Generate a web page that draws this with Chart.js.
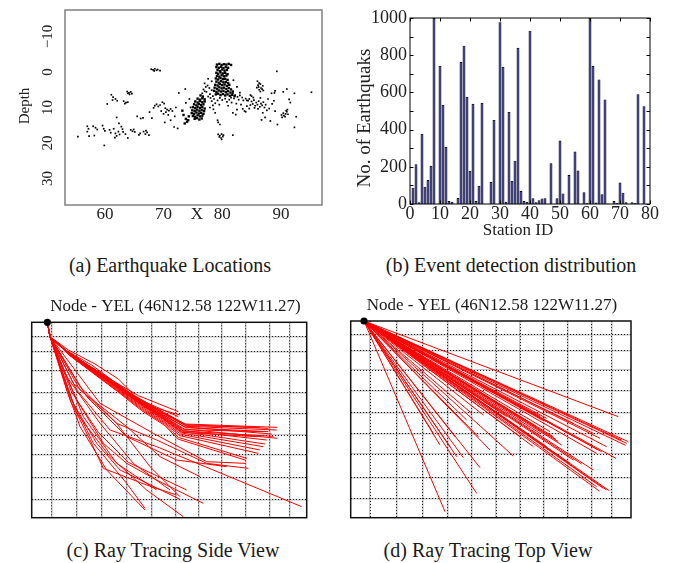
<!DOCTYPE html>
<html><head><meta charset="utf-8">
<script src="https://cdn.jsdelivr.net/npm/chart.js@4.4.1/dist/chart.umd.min.js"></script>
<style>
html,body{margin:0;padding:0;background:#fff}
body{width:687px;height:563px;position:relative;overflow:hidden;font-family:"Liberation Serif","Times New Roman",serif}
canvas{position:absolute}
.cap{position:absolute;font-size:20px;line-height:20px;color:#1a1a1a;white-space:nowrap;transform:translateX(-50%)}
</style></head><body>
<canvas id="ca" width="340" height="250" style="left:0;top:0"></canvas>
<canvas id="cb" width="347" height="250" style="left:340px;top:0"></canvas>
<canvas id="cc" width="340" height="240" style="left:0;top:290px"></canvas>
<canvas id="cd" width="347" height="240" style="left:340px;top:290px"></canvas>
<div class="cap" style="left:170px;top:255px">(a) Earthquake Locations</div>
<div class="cap" style="left:511px;top:255px">(b) Event detection distribution</div>
<div class="cap" style="left:173px;top:540px">(c) Ray Tracing Side View</div>
<div class="cap" style="left:488px;top:540px">(d) Ray Tracing Top View</div>
<script>
// ---------- (a) Earthquake locations: [x, depth] ----------
const depthTicks = [-10, 0, 10, 20, 30];
const xTicksA = [60, 70, 80, 90];
const mainColumn = [[79.1,-2.1],[79.5,-2.3],[79.9,-2.0],[80.3,-2.2],[80.7,-2.1],[81.1,-2.3],[81.5,-2.0],
[79.0,-1.4],[79.4,-1.2],[79.8,-1.5],[80.2,-1.1],[80.6,-1.4],[81.0,-1.2],
[79.2,-0.6],[79.6,-0.3],[80.0,-0.7],[80.4,-0.4],[80.8,-0.6],
[79.0,0.2],[79.3,0.5],[79.7,0.1],[80.1,0.4],[80.5,0.2],[80.9,0.6],
[79.1,1.1],[79.5,1.3],[79.9,0.9],[80.3,1.2],[80.7,1.0],
[78.9,1.8],[79.3,2.1],[79.7,1.7],[80.1,2.0],[80.5,1.9],[80.9,2.2],
[79.0,2.7],[79.4,3.0],[79.8,2.6],[80.2,2.9],[80.6,2.8],[81.0,3.1],
[78.8,3.6],[79.2,3.8],[79.6,3.4],[80.0,3.7],[80.4,3.5],[80.8,3.9],[81.2,3.6],
[78.7,4.4],[79.1,4.7],[79.5,4.3],[79.9,4.6],[80.3,4.4],[80.7,4.8],[81.1,4.5],[81.5,4.9],
[78.6,5.3],[79.0,5.6],[79.4,5.2],[79.8,5.5],[80.2,5.3],[80.6,5.7],[81.0,5.4],[81.4,5.8],[81.8,5.5],
[78.9,6.3],[79.3,6.1],[79.7,6.5],[80.1,6.2],[80.5,6.6],[80.9,6.3],[81.3,6.7],[81.7,6.4],[82.1,6.8]];
const centralSpread = [[77.5,3.8],[77.8,4.5],[78.2,5.1],[77.3,5.6],[77.9,6.2],[78.4,6.8],[78.0,7.3],[77.6,6.9],[78.6,7.6],[78.2,8.2],[78.8,8.8],[78.4,9.4],[77.9,10.0],[78.5,10.5],
[81.8,6.0],[82.2,6.5],[82.6,7.0],[83.0,6.6],[83.4,7.2],[82.0,7.4],[82.8,7.8],[83.6,8.0],[84.0,7.5],[84.4,8.1],[81.5,7.2],[81.2,7.8],[80.5,7.5],[80.0,7.9],[79.6,7.3],[79.2,8.0],[80.8,8.4],[81.6,8.6],[82.4,8.9],[83.2,9.2],[84.2,9.6],
[76.8,4.9],[77.0,5.4],[76.6,6.0],[77.2,4.2],[83.0,5.8],[84.8,6.5],[85.3,7.2],[84.6,10.3],[83.8,11.0],[82.5,10.6],[81.0,9.5],[79.5,9.2],[78.8,11.5],[79.2,13.6],[79.6,14.8],[79.3,14.2],[77.6,1.9],[78.2,2.6],[81.9,2.3],[77.0,3.2],[82.5,4.2]];
const blob75 = [[76.3,6.6],[76.7,6.9],[75.8,7.5],[76.2,7.8],[76.6,7.4],[77.0,7.7],
[75.4,8.3],[75.8,8.6],[76.2,8.2],[76.6,8.5],[77.0,8.3],[75.2,9.1],[75.6,9.4],[76.0,9.0],[76.4,9.3],[76.8,9.1],
[75.0,9.9],[75.4,10.2],[75.8,9.8],[76.2,10.1],[76.6,9.9],[77.0,10.3],[74.9,10.8],[75.3,11.0],[75.7,10.6],[76.1,10.9],[76.5,10.7],[76.9,11.0],
[74.8,11.6],[75.2,11.8],[75.6,11.4],[76.0,11.7],[76.4,11.5],[76.8,11.8],[75.0,12.4],[75.4,12.6],[75.8,12.2],[76.2,12.5],[76.6,12.3],
[75.3,13.2],[75.7,13.0],[76.1,13.4],[76.5,13.1],[73.8,13.2],[74.0,14.0],[73.6,14.5],[74.2,13.6],[73.4,12.1],[74.3,12.5],[73.2,10.9]];
const east86 = [[86.0,2.6],[86.3,3.1],[86.1,3.7],[86.5,3.4],[86.2,4.2],[86.6,4.5],[86.3,5.0],[86.8,4.8],[86.5,5.5],[87.0,5.2],[85.9,4.4],[86.9,3.9],
[84.2,8.0],[84.6,7.6],[85.0,8.3],[85.4,7.9],[85.8,8.6],[86.2,8.2],[86.6,8.9],[87.0,8.5],[87.4,9.2],[85.2,9.0],[85.6,9.5],[86.0,9.2],[86.4,9.8],[86.8,9.4],[87.2,10.0],[84.8,9.3],[85.5,10.1],[86.1,10.4],[87.6,10.8],[88.0,10.3],[86.9,11.5],[87.3,12.8],[86.7,13.5],[85.0,6.8],[86.5,7.3],[87.8,7.6],[88.5,9.0],[83.5,10.4],[84.0,11.2],[82.3,12.0],[81.8,11.5],[88.4,6.0],[89.0,5.3],[88.8,8.1]];
const east91 = [[90.2,12.8],[90.5,12.3],[90.8,11.8],[91.0,11.2],[90.4,11.6],[90.7,12.6],[91.1,10.6],[90.1,12.1],[91.2,11.9],[90.9,10.9],
[89.3,-0.2],[91.0,4.8],[95.2,5.7],[92.3,6.0],[91.4,7.7],[91.6,8.6],[92.6,12.6],[92.3,15.6],[89.4,14.8],[89.0,11.0],[88.2,13.8],[90.4,5.6],[88.9,5.9]];
const west70 = [[67.9,-0.8],[68.2,-0.6],[68.5,-0.9],[68.8,-0.5],[68.4,-0.3],[69.4,-0.4],[69.0,-0.7],
[68.5,9.5],[68.8,9.1],[69.1,9.7],[68.3,10.1],[69.4,9.3],[69.8,8.5],[70.1,8.9],[70.3,10.2],[70.6,10.6],[70.9,10.9],[70.4,11.3],[71.2,10.4],[71.5,11.0],[70.0,11.8],[69.6,11.0],[70.8,12.1],[71.9,12.5],[72.1,10.0],[67.6,11.3],[68.0,13.0],[70.2,14.2],[71.8,15.5],[72.4,15.9],[71.2,13.6],[72.6,5.9],[73.7,4.8],[74.4,7.6],[74.6,10.0],[73.8,8.7]];
const west60 = [[61.1,6.4],[61.4,7.1],[61.8,7.6],[61.3,7.9],[62.1,8.1],[60.4,9.0],[63.2,8.2],[63.6,8.6],[63.4,8.9],[63.9,8.5],
[63.8,5.5],[64.1,5.9],[64.4,5.6],[64.6,6.1],[64.2,6.3],[63.9,6.0],[65.5,12.5],[66.5,12.9],[62.0,12.8],[66.1,13.1],
[55.4,18.2],[57.0,15.3],[57.2,16.0],[57.0,16.8],[57.3,18.1],[58.0,15.3],[58.4,15.7],[58.7,16.2],[58.2,17.9],[59.6,15.1],[59.8,16.0],[60.0,16.6],[59.9,20.7],[61.0,17.1],[61.5,16.0],[61.8,17.3],[62.0,18.0],[62.3,16.8],[62.5,17.6],[62.8,15.4],[63.1,16.9],[63.5,17.5],[63.9,18.6],[64.4,16.3],[64.7,16.7],[64.9,16.2],[65.1,16.9],[66.0,17.3],[66.6,16.8],[66.9,17.5],[67.2,17.0],[67.5,17.8],[67.0,16.5],[65.8,17.7],[61.7,18.5],[60.8,16.3],[62.4,14.5],[63.0,16.1]];
const deep80 = [[79.3,17.6],[79.6,17.9],[79.9,17.5],[80.2,17.8],[79.5,18.3],[79.8,18.6],[80.1,18.2],[79.9,19.0],[81.8,17.8]];
const quakeClusters = [mainColumn, centralSpread, blob75, east86, east91, west70, west60, deep80];
const denseClusters = [mainColumn, blob75];

// ---------- (b) Event detection distribution ----------
const stationTicks = [0, 10, 20, 30, 40, 50, 60, 70, 80];
const countTicks = [0, 200, 400, 600, 800, 1000];
// counts for station IDs 0..80
const stationCounts = [0,88,214,10,377,93,129,205,1000,0,743,533,307,16,11,0,32,763,851,576,178,539,16,97,544,0,0,118,452,0,977,738,12,495,124,233,840,70,16,12,932,31,10,20,30,31,0,219,0,31,341,57,0,156,0,282,180,0,63,5,1000,742,8,670,53,562,3,0,16,5,115,61,10,0,10,6,590,0,525,0,0];

// ---------- (c) Ray tracing side view (plot units) ----------
const sideGridX = [60,135,210,285,360,432,500,570,642,713,773];
const sideGridY = [43,88,146,211,275,338,396,466,531];
const sideSource = [47, 0];
const sideRays = [
 [[47,0],[55,43],[95,80],[165,125],[235,170],[305,218],[375,258],[460,305],[737,315]],
 [[47,0],[55,43],[97,82],[167,127],[238,172],[308,222],[378,262],[462,307],[710,318]],
 [[47,0],[55,43],[99,84],[169,129],[240,175],[310,225],[380,266],[465,312],[735,323]],
 [[47,0],[55,43],[100,85],[170,131],[242,177],[312,228],[382,270],[462,316],[710,328]],
 [[47,0],[55,43],[102,87],[172,133],[244,180],[315,232],[385,275],[458,320],[737,348]],
 [[47,0],[55,43],[104,89],[174,136],[246,184],[318,236],[388,280],[455,325],[705,353]],
 [[47,0],[55,43],[106,91],[176,139],[248,188],[320,240],[390,285],[452,328],[700,365]],
 [[47,0],[55,43],[108,93],[178,142],[250,192],[322,245],[392,290],[450,332],[695,373]],
 [[47,0],[55,43],[110,95],[180,145],[252,196],[324,250],[394,295],[448,336],[685,383]],
 [[47,0],[55,43],[112,97],[182,148],[254,200],[326,255],[396,300],[445,340],[680,393]],
 [[47,0],[55,43],[114,99],[184,151],[256,204],[328,260],[398,305],[440,345],[645,408]],
 [[47,0],[55,43],[116,101],[186,154],[258,208],[330,265],[400,310],[438,350],[640,413]],
 [[47,0],[55,43],[98,83],[168,128],[239,174],[309,224],[379,264],[463,310],[685,315]],
 [[47,0],[55,43],[103,88],[173,134],[245,182],[316,234],[386,277],[456,322],[695,328]],
 [[47,0],[55,43],[107,92],[177,140],[249,190],[321,242],[391,287],[451,330],[675,343]],
 [[47,0],[55,43],[101,86],[171,132],[243,179],[313,230],[383,272],[460,314],[720,335]],
 [[47,0],[55,43],[105,90],[175,138],[247,186],[319,238],[389,282],[454,326],[725,342]],
 [[47,0],[55,43],[105,85],[180,128],[315,228]],
 [[47,0],[55,43],[110,83],[190,125],[260,170],[315,225]],
 [[47,0],[55,43],[110,90],[200,150],[320,220],[440,268]],
 [[47,0],[57,45],[115,95],[210,160],[320,230],[440,283]],
 [[47,0],[56,45],[120,100],[220,170],[330,245],[445,278]],
 [[47,0],[55,43],[145,193],[255,303],[375,353],[525,423],[650,438]],
 [[47,0],[55,43],[135,203],[235,323],[375,373],[545,443],[810,553]],
 [[47,0],[55,43],[135,233],[215,363],[285,423],[375,473],[515,543]],
 [[47,0],[55,43],[125,243],[195,363],[265,443],[445,531]],
 [[47,0],[55,43],[115,233],[175,353],[215,438],[345,488],[435,518]],
 [[47,0],[55,43],[105,203],[145,313],[225,443],[340,563]],
 [[47,0],[55,43],[115,223],[185,363],[285,483],[340,558]],
 [[47,0],[55,43],[135,273],[235,403],[345,503],[455,583]],
 [[47,0],[55,43],[155,283],[255,423],[375,503]],
 [[47,0],[55,43],[105,163],[205,303],[305,423],[415,503]],
 [[47,0],[55,43],[125,183],[255,303],[355,433],[445,523]],
 [[47,0],[55,43],[145,203],[285,313],[385,403],[505,463]],
 [[47,0],[55,43],[205,243],[365,333],[525,418],[640,423]],
 [[47,0],[55,43],[165,223],[285,343],[435,413],[585,433]],
 [[47,0],[55,43],[120,210],[200,330],[290,420],[465,503]]
];

// ---------- (d) Ray tracing top view (plot units) ----------
const topGridX = [58,138,216,290,363,436,508,578,650,723,783];
const topGridY = [40,89,147,209,275,337,399,469,532];
const topSource = [40, 0];
const topRayEnds = [[803,287],[833,362],[828,367],[825,373],[813,357],[768,377],[753,392],[743,387],[738,397],[796,412],
[693,429],[776,509],[768,507],[746,510],[758,502],[623,362],[616,355],[608,347],[598,332],[608,312],[578,299],[568,285],
[588,292],[558,317],[528,337],[488,405],[378,517],[283,572],[388,440],[338,410],[313,347],[268,372],[383,347],[398,282],
[363,277],[348,297],[568,337],[658,427],[668,417],[728,447],[738,497],[588,377],[548,377],[633,372],[508,347],[468,287],
[438,267],[298,377],[318,407],[248,337],[418,387],[668,307],[728,337],[748,352]];

const SERIF = '"Liberation Serif","Times New Roman",serif';
const fmtNum = v => (v < 0 ? '\u2212' + Math.abs(v) : String(v));

// ===== Chart (a) =====
const plotA = {
  id: 'plotA',
  afterDraw(chart) {
    const {ctx, chartArea: a, scales: {y}} = chart;
    ctx.save();
    ctx.strokeStyle = '#808080'; ctx.lineWidth = 1.5;
    ctx.strokeRect(a.left, a.top, a.right - a.left, a.bottom - a.top);
    ctx.fillStyle = '#222'; ctx.textAlign = 'center'; ctx.textBaseline = 'middle';
    ctx.font = '15px ' + SERIF;
    depthTicks.forEach(v => {
      const py = y.getPixelForValue(v);
      ctx.save(); ctx.translate(48, py); ctx.rotate(-Math.PI / 2); ctx.fillText(fmtNum(v), 0, 0); ctx.restore();
    });
    ctx.save(); ctx.translate(25, 106); ctx.rotate(-Math.PI / 2); ctx.fillText('Depth', 0, 0); ctx.restore();
    ctx.font = '17px ' + SERIF;
    ctx.fillText('X', 197, 215);
    ctx.restore();
  }
};
new Chart(document.getElementById('ca'), {
  type: 'scatter',
  data: { datasets: quakeClusters.map(c => ({
    data: c.map(p => ({x: p[0], y: p[1]})),
    pointStyle: 'rect', pointRadius: denseClusters.includes(c) ? 1.7 : 1.2, pointBorderWidth: 0,
    backgroundColor: '#000', borderColor: '#000'
  })) },
  options: {
    responsive: false, animation: false, devicePixelRatio: 1,
    layout: { padding: { left: 0, right: 18, top: 10, bottom: 0 } },
    plugins: { legend: { display: false }, tooltip: { enabled: false } },
    scales: {
      x: { type: 'linear', min: 53.2, max: 97,
        afterBuildTicks: s => { s.ticks = xTicksA.map(v => ({value: v})); },
        afterFit: s => { s.height = 45; },
        grid: { display: false, drawTicks: false }, border: { display: false },
        ticks: { color: '#222', font: { family: SERIF, size: 17 }, padding: -1, maxRotation: 0, autoSkip: false,
          callback: v => fmtNum(v) } },
      y: { type: 'linear', min: -17.5, max: 37.5, reverse: true,
        afterFit: s => { s.width = 65; },
        grid: { display: false, drawTicks: false }, border: { display: false },
        ticks: { display: false } }
    }
  },
  plugins: [plotA]
});

// ===== Chart (b) =====
const plotB = {
  id: 'plotB',
  afterDraw(chart) {
    const {ctx, chartArea: a, scales: {x, y}} = chart;
    ctx.save();
    ctx.strokeStyle = '#000'; ctx.lineWidth = 1;
    ctx.strokeRect(a.left, a.top, a.right - a.left, a.bottom - a.top);
    ctx.beginPath();
    stationTicks.forEach(v => {
      const px = Math.round(x.getPixelForValue(v)) + 0.5;
      ctx.moveTo(px, a.bottom); ctx.lineTo(px, a.bottom - 3.5);
      ctx.moveTo(px, a.top); ctx.lineTo(px, a.top + 3.5);
    });
    for (let i = 0; i < countTicks.length; i++) {
      const vals = [countTicks[i]];
      if (i < countTicks.length - 1) vals.push((countTicks[i] + countTicks[i + 1]) / 2);
      vals.forEach(v => {
        const py = Math.round(y.getPixelForValue(v)) + 0.5;
        ctx.moveTo(a.left, py); ctx.lineTo(a.left + 3.5, py);
        ctx.moveTo(a.right, py); ctx.lineTo(a.right - 3.5, py);
      });
    }
    ctx.stroke();
    ctx.fillStyle = '#222'; ctx.textAlign = 'center'; ctx.textBaseline = 'middle';
    ctx.font = '19px ' + SERIF;
    ctx.save(); ctx.translate(25, 118); ctx.rotate(-Math.PI / 2); ctx.fillText('No. of Earthquaks', 0, 0); ctx.restore();
    ctx.font = '17px ' + SERIF;
    ctx.fillText('Station ID', 178, 231);
    ctx.restore();
  }
};
new Chart(document.getElementById('cb'), {
  type: 'bar',
  data: { datasets: [{
    data: stationCounts.map((c, i) => ({x: i, y: c})),
    backgroundColor: '#000070', borderColor: '#000', borderWidth: 0.9,
    barPercentage: 0.97, categoryPercentage: 1
  }] },
  options: {
    responsive: false, animation: false, devicePixelRatio: 1,
    layout: { padding: { left: 0, right: 37, top: 18, bottom: 0 } },
    plugins: { legend: { display: false }, tooltip: { enabled: false } },
    scales: {
      x: { type: 'linear', min: 0, max: 80, offset: false,
        afterBuildTicks: s => { s.ticks = stationTicks.map(v => ({value: v})); },
        afterFit: s => { s.height = 46; },
        grid: { display: false, drawTicks: false, offset: false }, border: { display: false },
        ticks: { color: '#222', font: { family: SERIF, size: 18 }, padding: -1, maxRotation: 0, autoSkip: false,
          callback: v => String(v) } },
      y: { type: 'linear', min: 0, max: 1000,
        afterBuildTicks: s => { s.ticks = countTicks.map(v => ({value: v})); },
        afterFit: s => { s.width = 70; },
        grid: { display: false, drawTicks: false }, border: { display: false },
        ticks: { color: '#222', font: { family: SERIF, size: 18 }, padding: 3, callback: v => String(v) } }
    }
  },
  plugins: [plotB]
});

// ===== Charts (c) and (d) =====
function rayChart(id, rays, source, gx, gy, xmax, ymax, pad, titlePos) {
  const titlePlugin = {
    id: 'rayDecor',
    afterDraw(chart) {
      const {ctx, chartArea: a} = chart;
      ctx.save();
      ctx.strokeStyle = '#111'; ctx.lineWidth = 1.5;
      ctx.strokeRect(a.left, a.top, a.right - a.left, a.bottom - a.top);
      ctx.fillStyle = '#1a1a1a'; ctx.font = '17px ' + SERIF;
      ctx.textAlign = 'center'; ctx.textBaseline = 'middle';
      ctx.fillText('Node - YEL (46N12.58 122W11.27)', titlePos[0], titlePos[1]);
      ctx.restore();
    }
  };
  const datasets = [{
    data: [{x: source[0], y: source[1]}], pointRadius: 3.6, pointBorderWidth: 0,
    backgroundColor: '#000', borderColor: '#000', showLine: false, clip: 10
  }].concat(rays.map(r => ({
    data: r.map(p => ({x: p[0], y: p[1]})), showLine: true, pointRadius: 0,
    borderColor: '#ff0000', borderWidth: 1, fill: false
  })));
  new Chart(document.getElementById(id), {
    type: 'scatter',
    data: { datasets },
    options: {
      responsive: false, animation: false, devicePixelRatio: 1,
      layout: { padding: pad },
      plugins: { legend: { display: false }, tooltip: { enabled: false } },
      scales: {
        xg: { type: 'linear', position: 'bottom', min: 0, max: xmax,
          afterBuildTicks: s => { s.ticks = gx.map(v => ({value: v})); }, afterFit: s => { s.height = 0; },
          grid: { color: '#c4c4c4', lineWidth: 1.6, drawTicks: false, z: -1 }, border: { display: false }, ticks: { display: false } },
        yg: { type: 'linear', position: 'left', min: 0, max: ymax, reverse: true,
          afterBuildTicks: s => { s.ticks = gy.map(v => ({value: v})); }, afterFit: s => { s.width = 0; },
          grid: { color: '#c4c4c4', lineWidth: 1.6, drawTicks: false, z: -1 }, border: { display: false }, ticks: { display: false } },
        x: { type: 'linear', position: 'bottom', min: 0, max: xmax,
          afterBuildTicks: s => { s.ticks = gx.map(v => ({value: v})); }, afterFit: s => { s.height = 0; },
          grid: { color: '#222', lineWidth: 1, drawTicks: false }, border: { display: false, dash: [1, 2] }, ticks: { display: false } },
        y: { type: 'linear', position: 'left', min: 0, max: ymax, reverse: true,
          afterBuildTicks: s => { s.ticks = gy.map(v => ({value: v})); }, afterFit: s => { s.width = 0; },
          grid: { color: '#222', lineWidth: 1, drawTicks: false }, border: { display: false, dash: [1, 2] }, ticks: { display: false } }
      }
    },
    plugins: [titlePlugin]
  });
}
rayChart('cc', sideRays, sideSource, sideGridX, sideGridY, 825, 586,
  { left: 31.7, right: 33.3, top: 32.3, bottom: 12.3 }, [175.5, 16.5]);
rayChart('cd', topRayEnds.map(e => [topSource, e]), topSource, topGridX, topGridY, 841, 590,
  { left: 10.7, right: 56, top: 31, bottom: 12.3 }, [152, 15.5]);
</script>
</body></html>
